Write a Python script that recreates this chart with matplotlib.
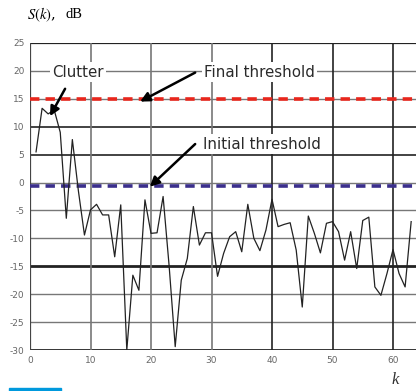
import numpy as np
import matplotlib.pyplot as plt
from matplotlib.patches import Rectangle

# S(k) in dB
k = list(range(1, 64))
s_db = [5.5, 13.3, 12.3, 13.0, 9.0, -6.4, 7.7, -1.5, -9.4, -4.9,
        -3.9, -5.8, -5.8, -13.3, -4.0, -30.0, -16.6, -19.3, -3.1, -9.1,
        -9.0, -2.5, -15.0, -29.4, -17.5, -13.6, -4.3, -11.2, -9.0, -9.0,
        -16.8, -12.7, -9.7, -8.8, -12.4, -3.9, -10.0, -12.2, -8.5, -3.0,
        -7.9, -7.5, -7.2, -12.1, -22.3, -6.0, -9.1, -12.6, -7.3, -7.0,
        -8.8, -13.9, -8.8, -15.4, -6.8, -6.2, -18.7, -20.2, -16.3, -12.0,
        -16.3, -18.7, -7.0]

final_thr = 15.0
initial_thr = -0.6

y_ticks = [25, 20, 15, 10, 5, 0, -5, -10, -15, -20, -25, -30]
x_ticks = [0, 10, 20, 30, 40, 50, 60]

fig = plt.figure(figsize=(4.16, 3.91), dpi=100)
ax = fig.add_axes([30/416, 1 - 350/391, 386/416, 307/391])
ax.set_xlim(0, 63.8)
ax.set_ylim(-30, 25)

# grid lines, some darker than others like in the scan
dark_h = {25: 1.6, 10: 1.2, 5: 1.2, -15: 2.0, -30: 2.0}
for y in y_ticks:
    if y in dark_h:
        ax.axhline(y, color='#222222', lw=dark_h[y], zorder=1)
    else:
        ax.axhline(y, color='#777777', lw=1.0, zorder=1)
for x in x_ticks:
    if x == 0:
        continue
    col = '#777777' if x < 40 else '#222222'
    ax.axvline(x, color=col, lw=1.2, zorder=1)
ax.axvline(0, color='#444444', lw=1.6, zorder=1)

ax.axhline(final_thr, color='#e8261c', lw=2.6, dashes=(2.6, 1.7), zorder=3)
ax.axhline(initial_thr, color='#3b2f8c', lw=2.6, dashes=(2.6, 1.7), zorder=3)

ax.plot(k, s_db, color='#222222', lw=0.9, zorder=4)

for sp in ax.spines.values():
    sp.set_visible(False)
ax.set_xticks(x_ticks)
ax.set_yticks(y_ticks)
ax.tick_params(length=0, labelsize=6.5, labelcolor='#666666', pad=4)
ax.set_xticklabels([str(v) for v in x_ticks])
ax.set_yticklabels([str(v) for v in y_ticks])

box = dict(facecolor='white', edgecolor='none', pad=1.5)
arrow = dict(arrowstyle='-|>', color='black', lw=1.8, mutation_scale=14,
             shrinkA=0, shrinkB=0)

ax.text(7.9, 19.8, 'Clutter', fontsize=10.8, ha='center', va='center',
        color='#2a2a2a', bbox=box, zorder=6)
ax.text(28.8, 19.8, 'Final threshold', fontsize=10.8, ha='left', va='center',
        color='#2a2a2a', bbox=box, zorder=6)
ax.text(28.6, 6.9, 'Initial threshold', fontsize=10.8, ha='left', va='center',
        color='#2a2a2a', bbox=box, zorder=6)

ax.annotate('', xy=(3.3, 11.9), xytext=(5.8, 16.8), arrowprops=arrow, zorder=6)
ax.annotate('', xy=(18.2, 14.5), xytext=(27.3, 19.7), arrowprops=arrow, zorder=6)
ax.annotate('', xy=(19.8, -0.75), xytext=(27.3, 6.9), arrowprops=arrow, zorder=6)

fig.text(27/416, 1 - 15/391, r'$S(k)$,', fontsize=10.5, va='center',
         family='DejaVu Serif', math_fontfamily='stix')
fig.text(66/416, 1 - 15/391, 'dB', fontsize=10.5, va='center',
         family='Liberation Serif')
fig.text(395/416, 1 - 380/391, 'k', fontsize=12, va='center', ha='center',
         family='Liberation Serif', style='italic', color='#333333')

fig.patches.append(Rectangle((9/416, 0), 52/416, 3/391, transform=fig.transFigure,
                             color='#0099dd', zorder=10))

fig.savefig('out.png', dpi=100)
